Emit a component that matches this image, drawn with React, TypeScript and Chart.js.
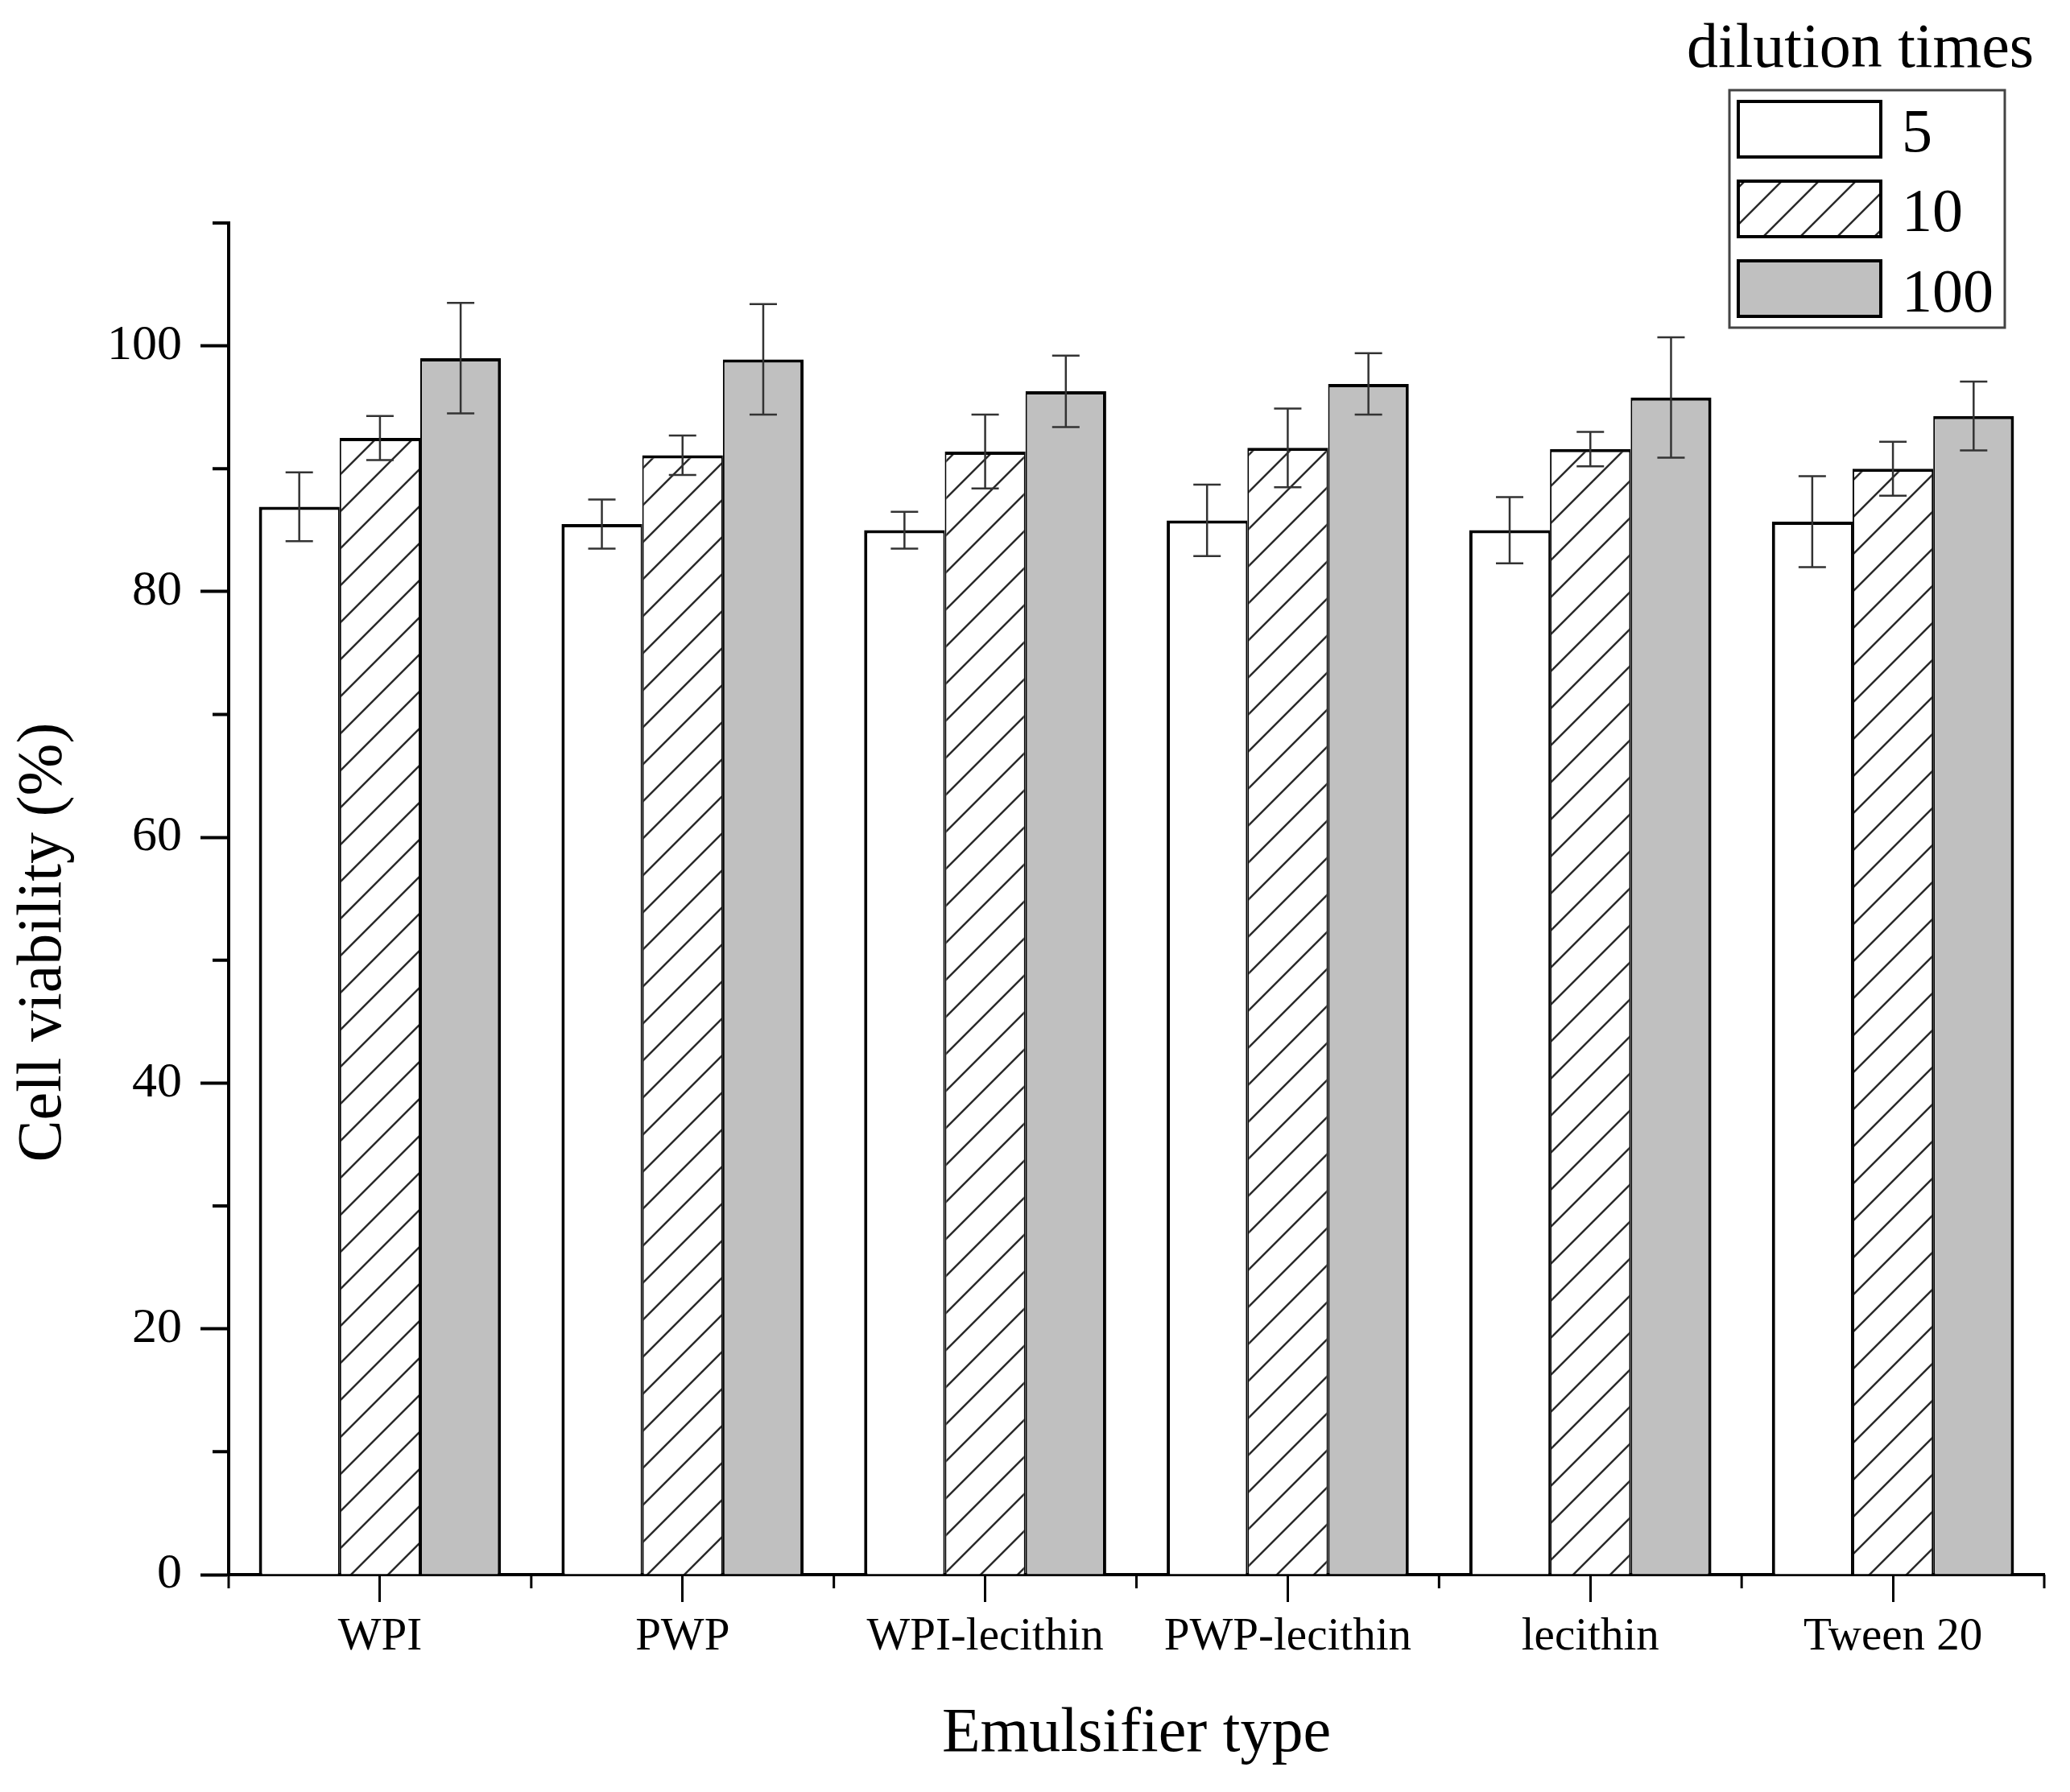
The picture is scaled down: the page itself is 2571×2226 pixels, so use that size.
import React, { useEffect, useRef } from 'react';
import { Chart, registerables } from 'chart.js';

Chart.register(...registerables);

// emulsifier types on the x axis
const categories = ['WPI', 'PWP', 'WPI-lecithin', 'PWP-lecithin', 'lecithin', 'Tween 20'];
// dilution times (legend entries)
const dilutionLabels = ['5', '10', '100'];

// cell viability (%) and standard deviations
const viability5 = [86.9, 85.5, 85.0, 85.8, 85.0, 85.7];
const error5 = [2.8, 2.0, 1.5, 2.9, 2.7, 3.7];
const viability10 = [92.5, 91.1, 91.4, 91.7, 91.6, 90.0];
const error10 = [1.8, 1.6, 3.0, 3.2, 1.4, 2.2];
const viability100 = [99.0, 98.9, 96.3, 96.9, 95.8, 94.3];
const error100 = [4.5, 4.5, 2.9, 2.5, 4.9, 2.8];

// y axis: ticks every 10, labels every 20
const yMin = 0;
const yMax = 110;
const yStep = 10;
const yLabelEvery = 20;

const FONT = '"Liberation Serif", "Times New Roman", serif';
const GREY = '#c0c0c0';

function makeHatch(): CanvasPattern | string {
  const s = 46;
  const c = document.createElement('canvas');
  c.width = s;
  c.height = s;
  const g = c.getContext('2d');
  if (!g) return '#fff';
  g.fillStyle = '#fff';
  g.fillRect(0, 0, s, s);
  g.strokeStyle = '#2a2a2a';
  g.lineWidth = 2.5;
  g.beginPath();
  g.moveTo(0, s);
  g.lineTo(s, 0);
  g.moveTo(-3, 3);
  g.lineTo(3, -3);
  g.moveTo(s - 3, s + 3);
  g.lineTo(s + 3, s - 3);
  g.stroke();
  const p = g.createPattern(c, 'repeat');
  return p || '#fff';
}

export default function App() {
  const canvasRef = useRef<HTMLCanvasElement>(null);
  const chartRef = useRef<Chart | null>(null);

  useEffect(() => {
    document.body.style.margin = '0';
    if (!canvasRef.current) return;
    if (chartRef.current) chartRef.current.destroy();
    const ctx = canvasRef.current.getContext('2d');
    if (!ctx) return;

    const hatch = makeHatch();
    const errorSets = [error5, error10, error100];
    const fills: (string | CanvasPattern)[] = ['#ffffff', hatch, GREY];
    // neighbouring bars share a single 4px edge
    const borders = [
      { left: 4, right: 2, top: 4, bottom: 0 },
      { left: 2, right: 2, top: 4, bottom: 0 },
      { left: 2, right: 4, top: 4, bottom: 0 },
    ];

    // error bars drawn from the y scale
    const errorBars = {
      id: 'errorBars',
      afterDatasetsDraw(chart: any) {
        const c = chart.ctx;
        const y = chart.scales.y;
        c.save();
        c.strokeStyle = '#333';
        c.lineWidth = 2.5;
        chart.data.datasets.forEach((ds: any, di: number) => {
          const meta = chart.getDatasetMeta(di);
          meta.data.forEach((bar: any, i: number) => {
            const v = ds.data[i] as number;
            const e = errorSets[di][i];
            const top = y.getPixelForValue(v + e);
            const bot = y.getPixelForValue(v - e);
            const cap = 17;
            c.beginPath();
            c.moveTo(bar.x, top);
            c.lineTo(bar.x, bot);
            c.moveTo(bar.x - cap, top);
            c.lineTo(bar.x + cap, top);
            c.moveTo(bar.x - cap, bot);
            c.lineTo(bar.x + cap, bot);
            c.stroke();
          });
        });
        c.restore();
      },
    };

    // short (minor) ticks, y axis title, boxed legend
    const decorations = {
      id: 'decorations',
      afterDraw(chart: any) {
        const c = chart.ctx;
        const { x, y } = chart.scales;
        const area = chart.chartArea;
        c.save();
        c.strokeStyle = '#000';
        c.lineWidth = 4;
        c.beginPath();
        y.ticks.forEach((t: any) => {
          if (t.value % yLabelEvery === 0) return;
          const py = y.getPixelForValue(t.value);
          c.moveTo(area.left - 20, py);
          c.lineTo(area.left, py);
        });
        c.stroke();
        c.lineWidth = 3;
        c.beginPath();
        const half = (x.getPixelForValue(1) - x.getPixelForValue(0)) / 2;
        for (let i = 0; i <= categories.length; i++) {
          const px = x.getPixelForValue(i) - half;
          c.moveTo(px, area.bottom);
          c.lineTo(px, area.bottom + 17);
        }
        c.stroke();

        // y axis title (sits a little below the axis centre in the original)
        c.save();
        c.translate(55, (area.top + area.bottom) / 2 + 54);
        c.rotate(-Math.PI / 2);
        c.fillStyle = '#000';
        c.font = `78px ${FONT}`;
        c.textAlign = 'center';
        c.textBaseline = 'middle';
        c.fillText('Cell viability (%)', 0, 0);
        c.restore();

        // legend
        c.fillStyle = '#000';
        c.font = `78px ${FONT}`;
        c.textAlign = 'left';
        c.textBaseline = 'alphabetic';
        c.fillText('dilution times', 2095, 83);
        c.strokeStyle = '#444';
        c.lineWidth = 3;
        c.strokeRect(2148, 112, 342, 295);
        const rows = [126, 225, 324];
        const baselines = [188, 287, 387];
        dilutionLabels.forEach((lab, i) => {
          c.fillStyle = fills[i];
          c.fillRect(2159, rows[i], 177, 69);
          c.strokeStyle = '#000';
          c.lineWidth = 4;
          c.strokeRect(2159, rows[i], 177, 69);
          c.fillStyle = '#000';
          c.font = `76px ${FONT}`;
          c.fillText(lab, 2362, baselines[i]);
        });
        c.restore();
      },
    };

    const values = [viability5, viability10, viability100];

    chartRef.current = new Chart(ctx, {
      type: 'bar',
      data: {
        labels: categories,
        datasets: dilutionLabels.map((lab, i) => ({
          label: lab,
          data: values[i],
          backgroundColor: fills[i] as any,
          borderColor: '#000',
          borderWidth: borders[i],
          borderSkipped: 'start',
          categoryPercentage: 0.8,
          barPercentage: 1.0,
        })),
      },
      options: {
        responsive: false,
        animation: false,
        devicePixelRatio: 1,
        layout: { padding: { top: 277, right: 32, left: 0, bottom: 0 } },
        plugins: {
          legend: { display: false },
          tooltip: { enabled: false },
        },
        scales: {
          x: {
            offset: true,
            afterFit: (scale: any) => {
              scale.height = 270;
            },
            grid: {
              offset: false,
              drawOnChartArea: false,
              drawTicks: true,
              tickLength: 34,
              tickWidth: 3,
              tickColor: '#000',
            },
            border: { display: true, color: '#000', width: 4 },
            ticks: {
              color: '#000',
              font: { family: FONT, size: 57 },
              padding: 10,
              maxRotation: 0,
              autoSkip: false,
            },
            title: {
              display: true,
              text: 'Emulsifier type',
              color: '#000',
              font: { family: FONT, size: 78 },
              padding: { top: 0, bottom: 25 },
            },
          },
          y: {
            min: yMin,
            max: yMax,
            afterFit: (scale: any) => {
              scale.width = 284;
            },
            grid: {
              drawOnChartArea: false,
              drawTicks: true,
              tickLength: 35,
              tickWidth: 4,
              tickColor: (c: any) =>
                c.tick && c.tick.value % yLabelEvery === 0 ? '#000' : 'rgba(0,0,0,0)',
            },
            border: { display: true, color: '#000', width: 4 },
            ticks: {
              stepSize: yStep,
              autoSkip: false,
              color: '#000',
              padding: 23,
              font: { family: FONT, size: 62 },
              callback: (v: any) => (Number(v) % yLabelEvery === 0 ? String(v) : ''),
            },
            title: { display: false },
          },
        },
      },
      plugins: [errorBars, decorations],
    });

    return () => {
      if (chartRef.current) {
        chartRef.current.destroy();
        chartRef.current = null;
      }
    };
  }, []);

  return (
    <div style={{ width: 2571, height: 2226, background: '#fff' }}>
      <canvas ref={canvasRef} width={2571} height={2226} style={{ display: 'block' }}></canvas>
    </div>
  );
}
